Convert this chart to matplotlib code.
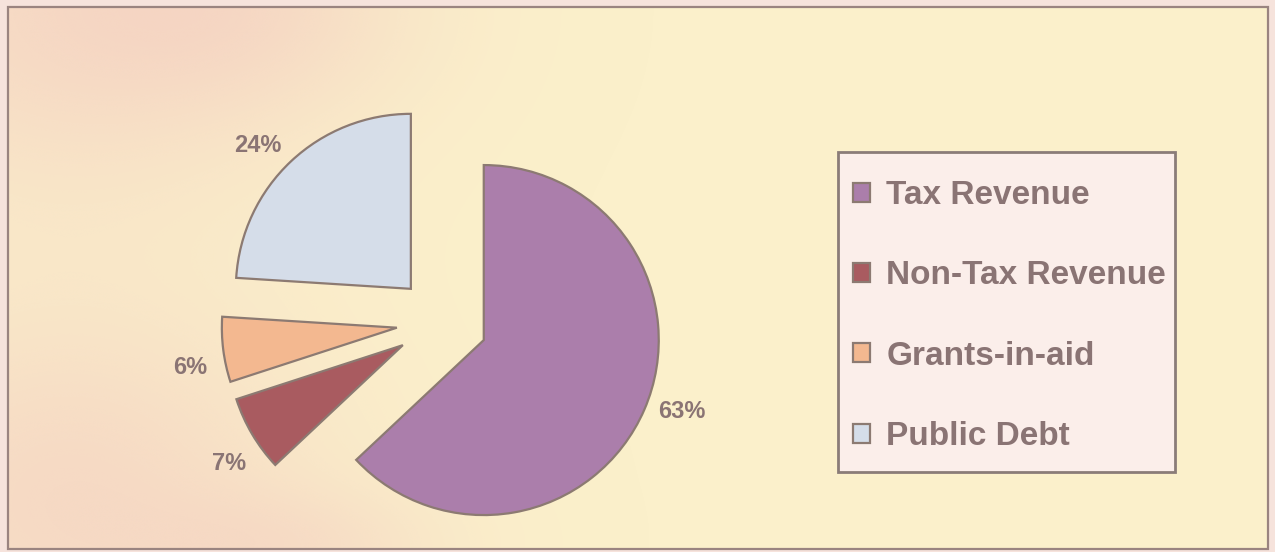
import numpy as np
import matplotlib.pyplot as plt
from matplotlib.patches import Rectangle

# revenue composition (percent)
categories = ['Tax Revenue', 'Non-Tax Revenue', 'Grants-in-aid', 'Public Debt']
shares = [63, 7, 6, 24]
colors = ['#ab7eab', '#a95b60', '#f3b890', '#d5dde9']

text_col = '#8a7474'
edge_col = '#8c7a72'

plt.rcParams['font.family'] = ['Liberation Sans', 'DejaVu Sans']

W, H = 1275, 552
fig = plt.figure(figsize=(W / 100, H / 100), dpi=100)
fig.patch.set_facecolor('#f6e3dc')

# background panel in pixel coords
bg = fig.add_axes([0, 0, 1, 1], zorder=0)
bg.set_xlim(0, W)
bg.set_ylim(H, 0)
bg.axis('off')
bg.add_patch(Rectangle((8, 7), 1260, 542, facecolor='#fbf0cb', edgecolor='none'))

# faint pink tint towards the left side of the panel
xx, yy = np.meshgrid(np.linspace(0, W, 320), np.linspace(0, H, 140))
alpha = 0.5 * np.exp(-((xx - 60) / 260.0) ** 2) * (0.7 + 0.3 * np.cos(yy / 80.0))
alpha += 0.25 * np.exp(-((xx - 260) / 170.0) ** 2) * np.exp(-(yy / 110.0) ** 2)
alpha += 0.25 * np.exp(-((xx - 300) / 150.0) ** 2) * np.exp(-((yy - 552) / 60.0) ** 2)
alpha = np.clip(alpha, 0, 0.6)
tint = np.zeros(xx.shape + (4,))
tint[..., 0] = 242 / 255
tint[..., 1] = 196 / 255
tint[..., 2] = 190 / 255
tint[..., 3] = alpha
bg.imshow(tint, extent=(8, 1268, 549, 7), interpolation='bicubic', zorder=1)
bg.add_patch(Rectangle((8, 7), 1260, 542, facecolor='none', edgecolor='#9a8480', lw=1.6, zorder=2))

# legend box
bg.add_patch(Rectangle((838, 152), 337, 320, facecolor='#fbeeea', edgecolor='#8a7c78', lw=2, zorder=3))

# pie axes: 175 px per unit, centre at (442, 322)
R = 175.0
cx, cy = 442, 322
ax = fig.add_axes([0, 0, 1, 1], zorder=1)
ax.set_facecolor('none')

wedges, _, autotexts = ax.pie(
    shares,
    colors=colors,
    startangle=90,
    counterclock=False,
    explode=[0.26] * 4,
    autopct=lambda p: f'{p:.0f}%',
    pctdistance=1.2,
    wedgeprops=dict(edgecolor=edge_col, linewidth=1.6),
    textprops=dict(color=text_col, fontsize=17, fontweight='bold'),
)

# swing the percentage labels a little anticlockwise around the centre
rot = np.deg2rad(3)
for t in autotexts:
    x, y = t.get_position()
    t.set_position((x * np.cos(rot) - y * np.sin(rot), x * np.sin(rot) + y * np.cos(rot)))

ax.set_aspect('auto')
ax.set_xlim(-cx / R, (W - cx) / R)
ax.set_ylim(-(H - cy) / R, cy / R)
ax.axis('off')

leg = ax.legend(
    wedges, categories,
    loc='upper left',
    bbox_to_anchor=(853 / W, 1 - 180 / H),
    bbox_transform=fig.transFigure,
    borderaxespad=0,
    prop=dict(weight='bold', size=24),
    handlelength=0.5,
    handleheight=0.5,
    handletextpad=0.5,
    labelspacing=1.48,
    borderpad=0,
    frameon=False,
)
for t in leg.get_texts():
    t.set_color(text_col)

fig.savefig('out.png', dpi=100, facecolor=fig.get_facecolor())
